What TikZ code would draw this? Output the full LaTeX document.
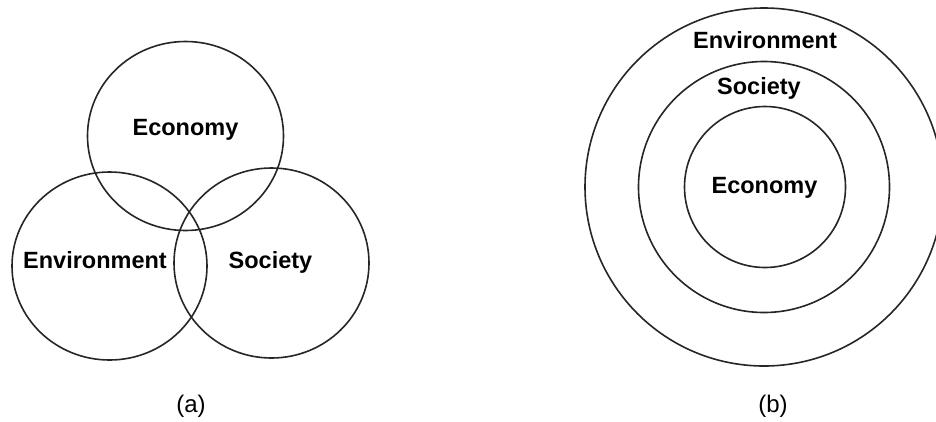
\documentclass[tikz,border=0pt]{standalone}
\usepackage{fontspec}
\setmainfont{Liberation Sans}
\begin{document}
\begin{tikzpicture}[x=1pt,y=-1pt,
  ring/.style={draw=black!85,line width=1.6pt},
  lbl/.style={anchor=base,inner sep=0pt,font=\fontsize{23.5}{23.5}\selectfont\bfseries},
  captxt/.style={anchor=base,inner sep=0pt,font=\fontsize{24}{24}\selectfont}]
\useasboundingbox[fill=white] (0,0) rectangle (936,421);
% (a) Venn
\draw[ring] (185.5,136) ellipse [x radius=98pt, y radius=94.5pt];
\draw[ring] (109.5,266) ellipse [x radius=97.5pt, y radius=94pt];
\draw[ring] (271.5,263) ellipse [x radius=97.5pt, y radius=95pt];
\node[lbl] (aeco) at (185.5,135) {Economy};
\node[lbl] (aenv) at (95,268) {Environment};
\node[lbl] (asoc) at (270.5,268) {Society};
\node[captxt] (a) at (191,412) {(a)};
% (b) concentric
\draw[ring] (764,187) circle [radius=179pt];
\draw[ring] (764,187) circle [radius=125.5pt];
\draw[ring] (765,187) circle [radius=80.5pt];
\node[lbl] (benv) at (765,48) {Environment};
\node[lbl] (bsoc) at (759,94) {Society};
\node[lbl] (beco) at (764.5,193) {Economy};
\node[captxt] (b) at (773,412) {(b)};
\end{tikzpicture}
\end{document}
